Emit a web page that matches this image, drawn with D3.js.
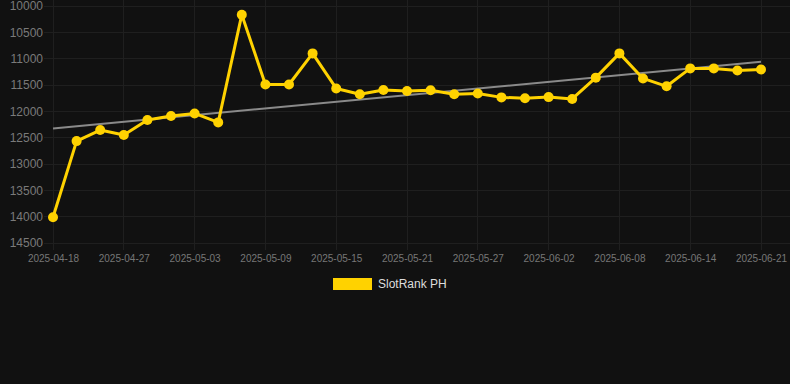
<!DOCTYPE html>
<html>
<head>
<meta charset="utf-8">
<script src="https://cdn.jsdelivr.net/npm/d3@7"></script>
<style>
  html, body { margin: 0; padding: 0; background: #111111; }
  svg { display: block; }
</style>
</head>
<body>
<svg id="chart" width="790" height="384"></svg>
<script>
const categories = [
  "2025-04-18","2025-04-21","2025-04-24","2025-04-27","2025-04-29","2025-05-01",
  "2025-05-03","2025-05-05","2025-05-07","2025-05-09","2025-05-11","2025-05-13",
  "2025-05-15","2025-05-17","2025-05-19","2025-05-21","2025-05-23","2025-05-25",
  "2025-05-27","2025-05-29","2025-05-31","2025-06-02","2025-06-04","2025-06-06",
  "2025-06-08","2025-06-10","2025-06-12","2025-06-14","2025-06-16","2025-06-18",
  "2025-06-21"
];
const rankValues = [
  14010, 12565, 12355, 12450, 12165, 12090,
  12040, 12210, 10165, 11490, 11490, 10900,
  11565, 11675, 11595, 11615, 11600, 11675,
  11660, 11735, 11750, 11730, 11765, 11360,
  10900, 11375, 11525, 11185, 11185, 11225,
  11205
];
const trendCategories = ["2025-04-18", "2025-06-21"];
const trendValues = [12325, 11060];
const yTicks = [10000, 10500, 11000, 11500, 12000, 12500, 13000, 13500, 14000, 14500];
const seriesName = "SlotRank PH";

(function () {
const svg = d3.select("#chart");
const W = 790;
const pLeft = 53, pRight = 761, pTop = 6, pBottom = 243;
const lineColor = "#FFD200";
const gridColor = "#1f1f1f";

const x = d3.scalePoint().domain(categories).range([pLeft, pRight]);
const y = d3.scaleLinear().domain([10000, 14500]).range([pTop, pBottom]);

const shownTicks = categories.filter((d, i) => i % 3 === 0);

// vertical grid
svg.append("g").selectAll("line").data(shownTicks).join("line")
  .attr("x1", d => x(d)).attr("x2", d => x(d))
  .attr("y1", 0).attr("y2", pBottom + 7)
  .attr("stroke", gridColor).attr("stroke-width", 1)
  .attr("shape-rendering", "crispEdges");

// horizontal grid
svg.append("g").selectAll("line").data(yTicks).join("line")
  .attr("x1", pLeft - 9).attr("x2", W)
  .attr("y1", d => y(d)).attr("y2", d => y(d))
  .attr("stroke", gridColor).attr("stroke-width", 1)
  .attr("shape-rendering", "crispEdges");

// y axis labels
const yAxis = d3.axisLeft(y).tickValues(yTicks).tickSize(0).tickPadding(0).tickFormat(d3.format("d"));
const gy = svg.append("g").attr("transform", `translate(${pLeft - 10},0)`).call(yAxis);
gy.select(".domain").remove();
gy.selectAll("text").attr("fill", "#7a7a7a").style("font-family", "Arial, 'Liberation Sans', sans-serif").style("font-size", "12px");

// x axis labels
const xAxis = d3.axisBottom(x).tickValues(shownTicks).tickSize(0).tickPadding(0);
const gx = svg.append("g").attr("transform", `translate(0,${pBottom + 12})`).call(xAxis);
gx.select(".domain").remove();
gx.selectAll("text").attr("fill", "#777777").attr("dy", "0.71em").style("font-family", "Arial, 'Liberation Sans', sans-serif").style("font-size", "10px");

// trend line
const trendData = trendCategories.map((c, i) => ({ c, v: trendValues[i] }));
svg.append("path").datum(trendData)
  .attr("fill", "none").attr("stroke", "#8a8a8a").attr("stroke-width", 2)
  .attr("d", d3.line().x(d => x(d.c)).y(d => y(d.v)));

// main line
const data = categories.map((c, i) => ({ c, v: rankValues[i] }));
svg.append("path").datum(data)
  .attr("fill", "none").attr("stroke", lineColor).attr("stroke-width", 3)
  .attr("stroke-linejoin", "round")
  .attr("d", d3.line().x(d => x(d.c)).y(d => y(d.v)));

svg.append("g").selectAll("circle").data(data).join("circle")
  .attr("cx", d => x(d.c)).attr("cy", d => y(d.v)).attr("r", 5)
  .attr("fill", lineColor);

// legend
const lg = svg.append("g");
lg.append("rect").attr("x", 333).attr("y", 278).attr("width", 39).attr("height", 12)
  .attr("fill", lineColor);
lg.append("text").attr("x", 378).attr("y", 284).attr("dy", "0.35em")
  .attr("fill", "#dddddd").style("font-family", "Arial, 'Liberation Sans', sans-serif")
  .style("font-size", "12px").text(seriesName);
})();
</script>
</body>
</html>
